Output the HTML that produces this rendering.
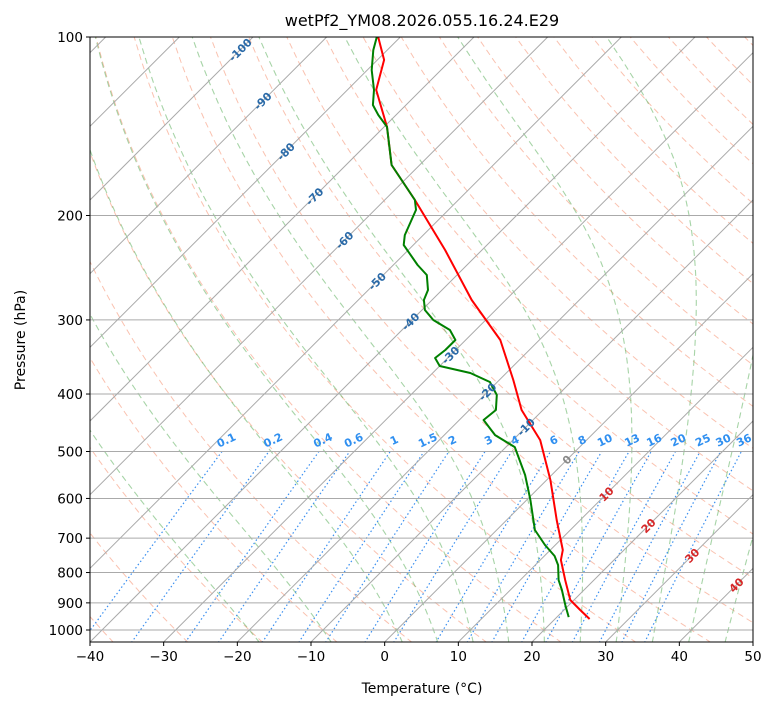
<!DOCTYPE html>
<html><head><meta charset="utf-8">
<style>
body{margin:0;background:#fff;}
svg text{font-family:"DejaVu Sans","Liberation Sans",sans-serif;}
</style></head>
<body>
<svg id="chart" width="775" height="708" viewBox="0 0 775 708" xmlns="http://www.w3.org/2000/svg">
<defs><clipPath id="clip"><rect x="90" y="37" width="663" height="605"/></clipPath></defs>
<rect x="0" y="0" width="775" height="708" fill="#fff"/>
<text x="422" y="26" font-size="16" text-anchor="middle">wetPf2_YM08.2026.055.16.24.E29</text>
<g id="bg" clip-path="url(#clip)"></g>
<g id="series" clip-path="url(#clip)"></g>
<g id="labels"></g>
<rect x="90" y="37" width="663" height="605" fill="none" stroke="#000" stroke-width="1"/>
<g id="axes"></g>
<text x="422" y="693" font-size="14" text-anchor="middle">Temperature (°C)</text>
<text transform="translate(25,340) rotate(-90)" font-size="14" text-anchor="middle">Pressure (hPa)</text>
</svg>
<script>
// ---- data ----
const tempPressure = [100,109.3,122.8,141.8,164.4,188.3,228.7,277.7,324.3,378.8,425.6,478.3,558.5,652.5,733.1,762.1,823.8,890.1,925.3,958.3];
const tempValues   = [-83.0,-79.1,-76.1,-69.6,-63.8,-55.9,-45.0,-34.6,-25.3,-18.1,-12.9,-6.3,0.5,6.8,11.7,12.8,16.1,19.5,22.2,24.7];
const dewPressure = [100,105.2,113.7,122.8,130.2,135.4,141.8,164.4,188.3,195.7,215.8,224.3,242.4,252.0,267.1,277.7,288.7,300.1,311.9,324.3,337.2,347.8,358.7,368.6,381.8,401.6,425.6,442.5,469.1,491.5,547.8,603.6,678.3,719.0,750.4,777.1,823.8,856.1,907.5,951.0];
const dewValues   = [-83.2,-81.9,-79.4,-76.4,-74.5,-72.4,-69.6,-63.8,-55.9,-54.4,-52.5,-51.3,-46.7,-44.1,-41.9,-41.1,-39.6,-37.1,-33.5,-31.4,-31.4,-31.7,-30.0,-24.9,-21.0,-18.3,-16.4,-16.7,-13.1,-8.8,-3.6,0.5,5.2,8.6,11.4,13.1,15.2,17.0,19.5,21.6];
const xTicks = [-40,-30,-20,-10,0,10,20,30,40,50];
const pTicks = [100,200,300,400,500,600,700,800,900,1000];
const mixValues = [0.1,0.2,0.4,0.6,1,1.5,2,3,4,6,8,10,13,16,20,25,30,36];
const mixLabels = ["0.1","0.2","0.4","0.6","1","1.5","2","3","4","6","8","10","13","16","20","25","30","36"];
const isoLabelTemps = [-100,-90,-80,-70,-60,-50,-40,-30,-20,-10,0,10,20,30,40];
const isoLabelPress = [101.9,124.3,151.2,180.1,213.4,250.3,292.6,333.5,384.5,440.8,500.5,571.7,646.5,726.1,814.2];
const dryT0 = [-50,-40,-30,-20,-10,0,10,20,30,40,50,60,70,80,90,100,110,120,130,140,150,160,170,180,190,200];
const moistT0 = [-20,-10,0,5,10,15,20,25,30,35,40,45];

// ---- axis functions ----
const L=90,R=753,T=37,B=642,PXC=663/90;
function Y(p){return T+593*Math.log10(p/100);}
function X(t,p){return L+(t+40)*PXC+(B-Y(p));}
const NS="http://www.w3.org/2000/svg";
function mk(tag,attrs,parent){const e=document.createElementNS(NS,tag);for(const k in attrs)e.setAttribute(k,attrs[k]);parent.appendChild(e);return e;}
const bg=document.getElementById('bg'),ser=document.getElementById('series'),lab=document.getElementById('labels'),ax=document.getElementById('axes');
function pathFrom(ps,ts){return ps.map((p,i)=>(i?'L':'M')+X(ts[i],p).toFixed(1)+','+Y(p).toFixed(1)).join('');}
const pGrid=[];for(let p=1050;p>=100;p-=10)pGrid.push(p);

// dry adiabats
dryT0.forEach(t0=>{const th=t0+273.15;const ts=pGrid.map(p=>th*Math.pow(p/1000,0.2857)-273.15);
 const e=mk('path',{d:pathFrom(pGrid,ts),fill:'none',stroke:'rgba(245,120,80,0.45)','stroke-width':1,'stroke-dasharray':'6,4'},bg);
 });
// moist adiabats
function es(t){return 6.112*Math.exp(17.67*t/(t+243.5));}
function moistProfile(t0){const out={};out[1000]=t0;
 const step=(dir)=>{let tt=t0;for(let p=1000;dir<0?p>100:p<1050;p+=dir){const Tk=tt+273.15;const rs=0.622*es(tt)/(p-es(tt));
  const num=(287*Tk+2.5e6*rs)/(1004+2.5e6*2.5e6*rs*0.622/(287*Tk*Tk));tt+=num/p*dir;out[p+dir]=tt;}};
 step(-1);step(1);return out;}
moistT0.forEach(t0=>{const prof=moistProfile(t0);const ts=pGrid.map(p=>prof[p]);
 const e=mk('path',{d:pathFrom(pGrid,ts),fill:'none',stroke:'rgba(80,170,80,0.5)','stroke-width':1.1,'stroke-dasharray':'6,4'},bg);
 });
// mixing ratio lines
function tdFromW(w,p){const e=w*p/(622+w);const l=Math.log(e/6.112);return 243.5*l/(17.67-l);}
const mixP=[];for(let p=1050;p>=500;p-=10)mixP.push(p);
mixValues.forEach((w,i)=>{const ts=mixP.map(p=>tdFromW(w,p));
 const e=mk('path',{d:pathFrom(mixP,ts),fill:'none',stroke:'#3a8ff0','stroke-width':1.2,'stroke-dasharray':'1.5,2.5'},bg);
 
 const lp=485;const x=X(tdFromW(w,lp),lp),y=Y(lp);
 const t=mk('text',{x:x,y:y,'font-size':11,'font-weight':'bold',fill:'#2f8ff0','text-anchor':'middle',transform:`rotate(-25 ${x} ${y})`},lab);t.textContent=mixLabels[i];
 });
// isotherms
for(let t=-140;t<=50;t+=10){const e=mk('line',{x1:X(t,1050),y1:Y(1050),x2:X(t,100),y2:Y(100),stroke:'#aaa','stroke-width':1},bg);
 }
// isobars
pTicks.forEach(p=>{const e=mk('line',{x1:L,x2:R,y1:Y(p),y2:Y(p),stroke:'#aaa','stroke-width':1},bg);
 });
// isotherm labels
isoLabelTemps.forEach((t,i)=>{const p=isoLabelPress[i];const x=X(t,p)-8,y=Y(p)+8;
 const col=t<0?'#2a6aa8':(t===0?'#888':'#d62728');
 const e=mk('text',{x:x,y:y+4,'font-size':11,'font-weight':'bold',fill:col,'text-anchor':'middle',transform:`rotate(-45 ${x} ${y})`},lab);e.textContent=String(t);
 });
// series
const tl=mk('path',{d:pathFrom(tempPressure,tempValues),fill:'none',stroke:'#f00','stroke-width':2,'stroke-linejoin':'round'},ser);

const dl=mk('path',{d:pathFrom(dewPressure,dewValues),fill:'none',stroke:'#008000','stroke-width':2,'stroke-linejoin':'round'},ser);

// axes ticks
xTicks.forEach(t=>{const x=L+(t+40)*PXC;mk('line',{x1:x,x2:x,y1:B,y2:B+4,stroke:'#000'},ax);
 const e=mk('text',{x:x,y:B+19,'font-size':13.5,'text-anchor':'middle'},ax);e.textContent=(t<0?'\u2212'+(-t):String(t));
 });
pTicks.forEach(p=>{const y=Y(p);mk('line',{x1:L-4,x2:L,y1:y,y2:y,stroke:'#000'},ax);
 const e=mk('text',{x:L-7,y:y+5,'font-size':13.5,'text-anchor':'end'},ax);e.textContent=String(p);
 });
</script>
</body></html>
